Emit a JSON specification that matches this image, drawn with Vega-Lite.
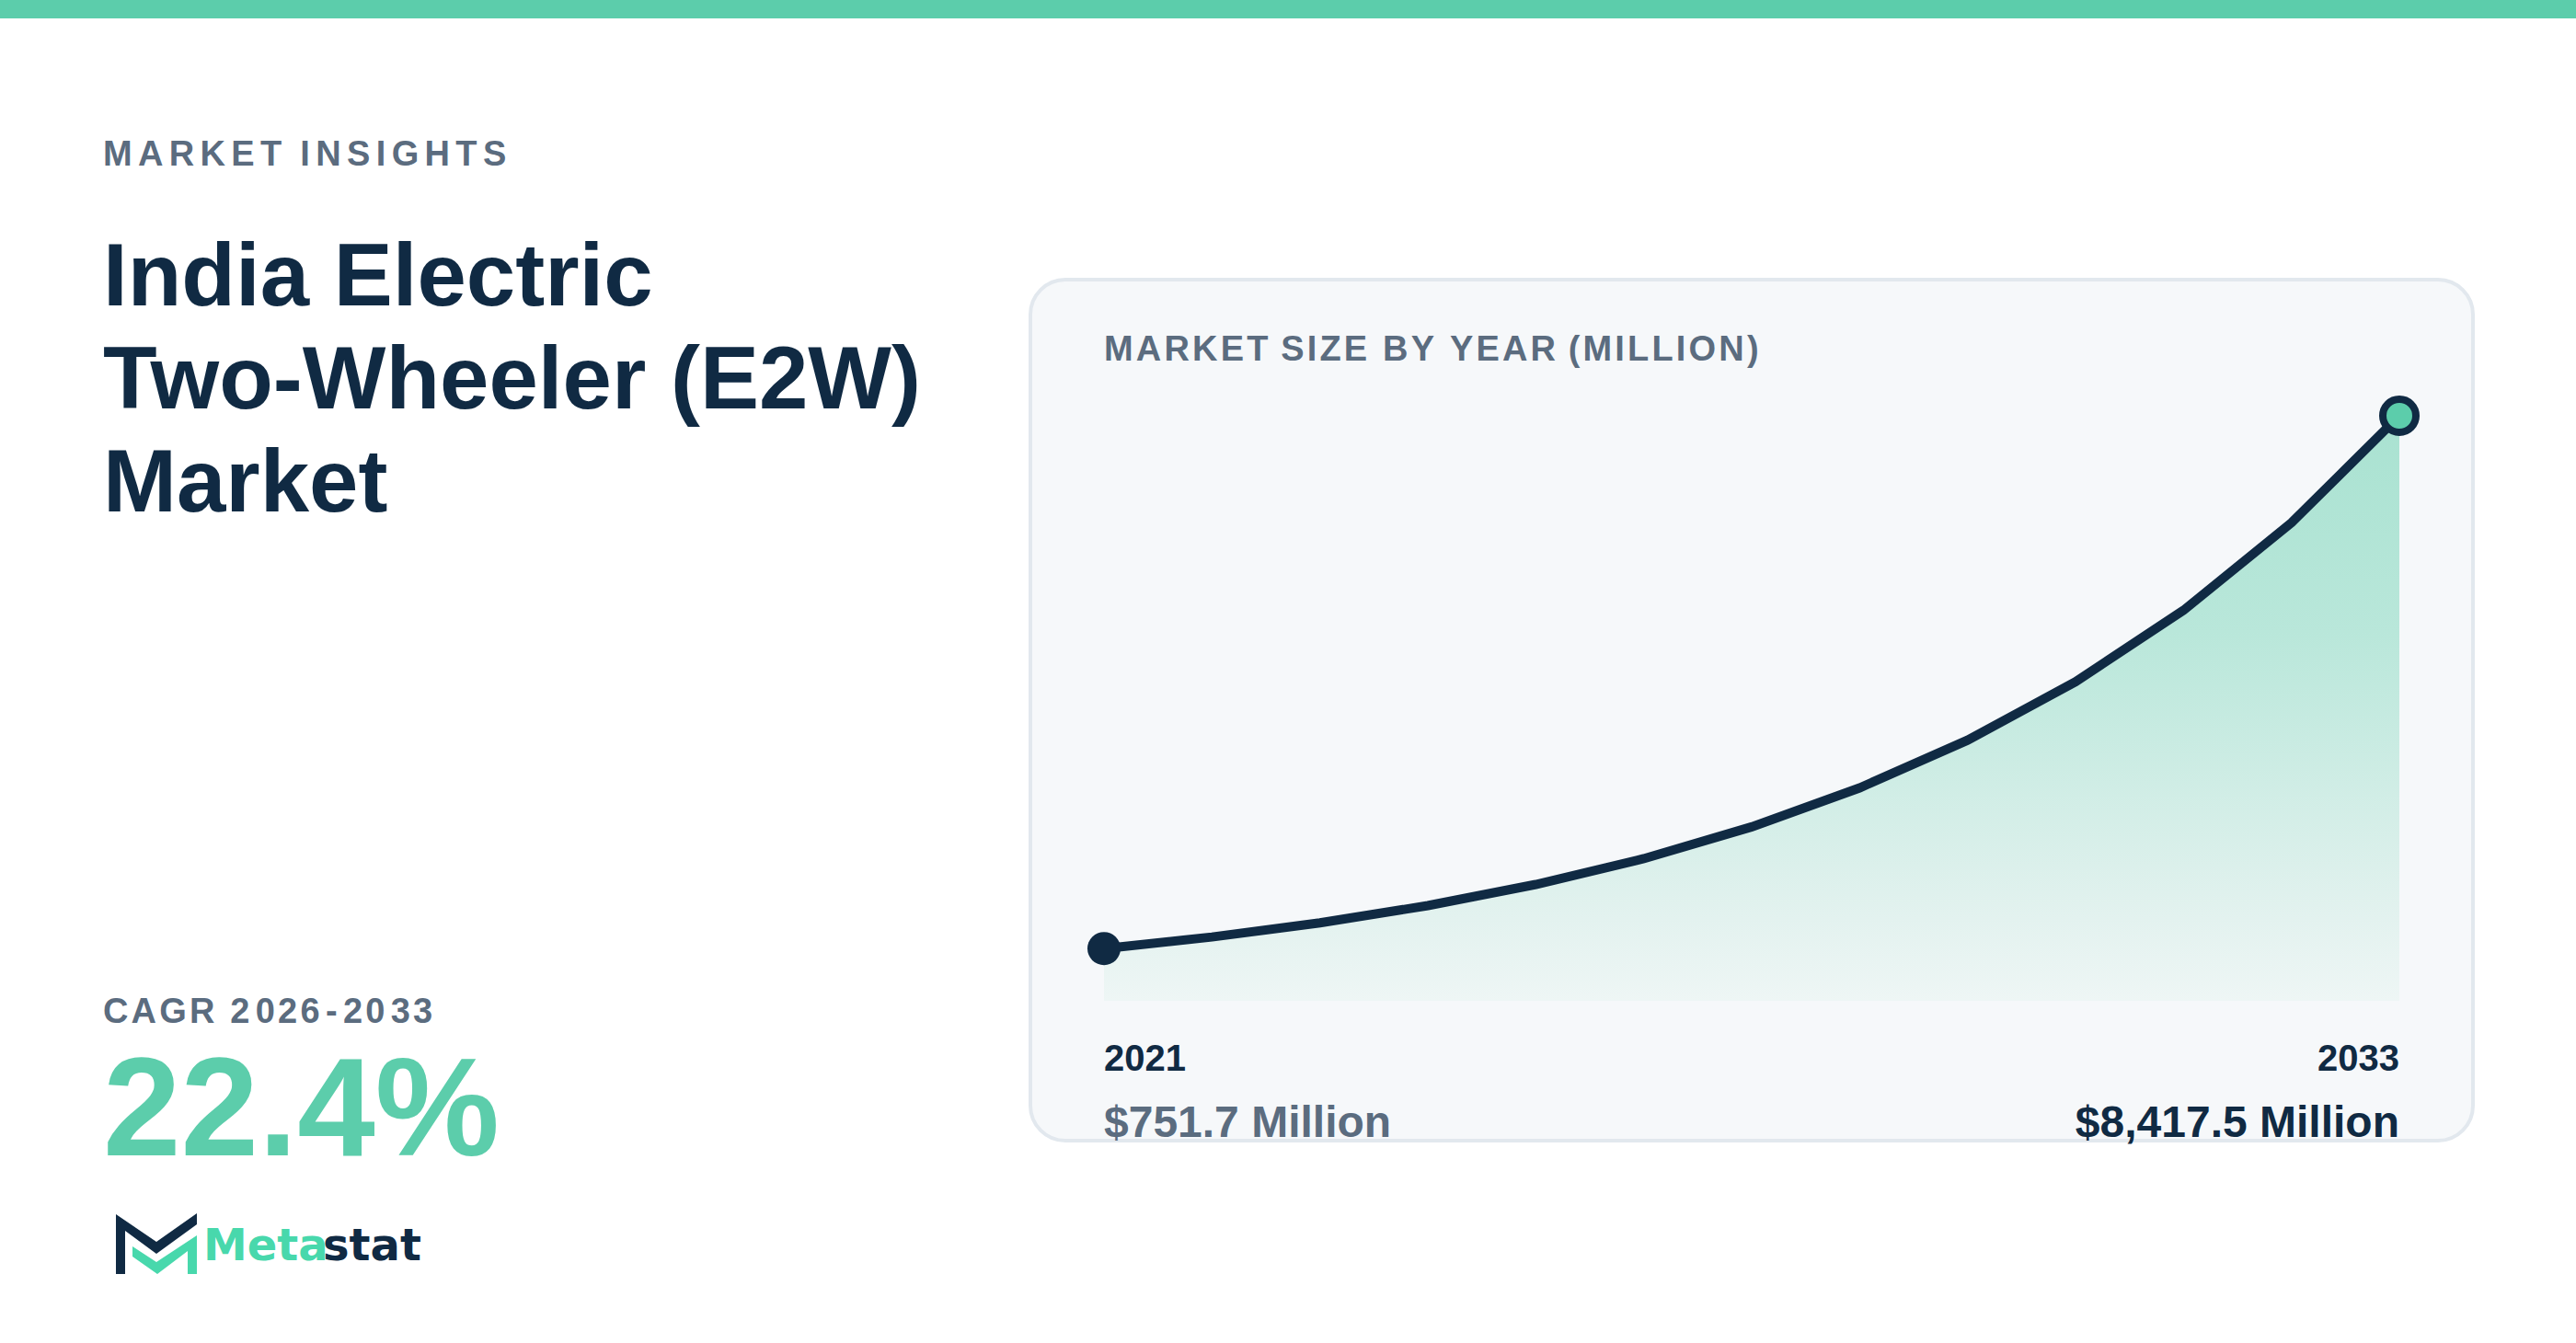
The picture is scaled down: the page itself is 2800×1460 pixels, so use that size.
{
  "$schema": "https://vega.github.io/schema/vega-lite/v6.json",
  "description": "India Electric Two-Wheeler (E2W) Market size by year",
  "width": 1568,
  "height": 936,
  "autosize": "none",
  "padding": {"left": 1120, "right": 112, "top": 304, "bottom": 220},
  "background": "#ffffff",
  "view": {"fill": "#f6f8fa", "stroke": "#e2e8ee", "strokeWidth": 4, "cornerRadius": 38},
  "config": {"font": "Liberation Sans", "text": {"font": "Liberation Sans", "fontWeight": "bold"}},
  "datasets": {
    "market": [
      {"year": 2021, "value": 751.7},
      {"year": 2022, "value": 918},
      {"year": 2023, "value": 1122},
      {"year": 2024, "value": 1370},
      {"year": 2025, "value": 1674},
      {"year": 2026, "value": 2045},
      {"year": 2027, "value": 2503},
      {"year": 2028, "value": 3064},
      {"year": 2029, "value": 3750},
      {"year": 2030, "value": 4590},
      {"year": 2031, "value": 5618},
      {"year": 2032, "value": 6877},
      {"year": 2033, "value": 8417.5}
    ],
    "ends": [
      {"year": 2021, "label": "2021", "amount": "$751.7 Million"},
      {"year": 2033, "label": "2033", "amount": "$8,417.5 Million"}
    ]
  },
  "data": {"name": "market"},
  "layer": [
    {
      "mark": {
        "type": "area",
        "color": {
          "gradient": "linear", "x1": 0, "y1": 0, "x2": 0, "y2": 1,
          "stops": [{"offset": 0, "color": "#a9e2d1"}, {"offset": 0.37, "color": "#b9e7da"}, {"offset": 0.86, "color": "#e3f2ef"}, {"offset": 1, "color": "#eef6f5"}]
        }
      },
      "encoding": {
        "x": {"field": "year", "type": "quantitative", "axis": null, "scale": {"domain": [2021, 2033], "range": [80, 1488], "zero": false, "nice": false}},
        "y": {"field": "value", "type": "quantitative", "axis": null, "scale": {"domain": [0, 8417.5], "range": [784, 148], "nice": false}}
      }
    },
    {
      "mark": {"type": "line", "color": "#102a43", "strokeWidth": 10},
      "encoding": {
        "x": {"field": "year", "type": "quantitative"},
        "y": {"field": "value", "type": "quantitative"}
      }
    },
    {
      "transform": [{"filter": "datum.year == 2021"}],
      "mark": {"type": "circle", "size": 1296, "fill": "#102a43", "opacity": 1},
      "encoding": {
        "x": {"field": "year", "type": "quantitative"},
        "y": {"field": "value", "type": "quantitative"}
      }
    },
    {
      "transform": [{"filter": "datum.year == 2033"}],
      "mark": {"type": "circle", "size": 1296, "fill": "#5ccdab", "stroke": "#102a43", "strokeWidth": 8, "opacity": 1},
      "encoding": {
        "x": {"field": "year", "type": "quantitative"},
        "y": {"field": "value", "type": "quantitative"}
      }
    },
    {
      "data": {"name": "ends"},
      "transform": [{"filter": "datum.year == 2021"}],
      "mark": {"type": "text", "align": "left", "baseline": "alphabetic", "fontSize": 40, "color": "#102a43", "y": 860},
      "encoding": {
        "x": {"field": "year", "type": "quantitative"},
        "text": {"field": "label"}
      }
    },
    {
      "data": {"name": "ends"},
      "transform": [{"filter": "datum.year == 2033"}],
      "mark": {"type": "text", "align": "right", "baseline": "alphabetic", "fontSize": 40, "color": "#102a43", "y": 860},
      "encoding": {
        "x": {"field": "year", "type": "quantitative"},
        "text": {"field": "label"}
      }
    },
    {
      "data": {"name": "ends"},
      "transform": [{"filter": "datum.year == 2021"}],
      "mark": {"type": "text", "align": "left", "baseline": "alphabetic", "fontSize": 48, "color": "#5b6c7f", "y": 932},
      "encoding": {
        "x": {"field": "year", "type": "quantitative"},
        "text": {"field": "amount"}
      }
    },
    {
      "data": {"name": "ends"},
      "transform": [{"filter": "datum.year == 2033"}],
      "mark": {"type": "text", "align": "right", "baseline": "alphabetic", "fontSize": 48, "color": "#102a43", "y": 932},
      "encoding": {
        "x": {"field": "year", "type": "quantitative"},
        "text": {"field": "amount"}
      }
    },
    {
      "data": {"values": [{"label": "M\u200aA\u200aR\u200aK\u200aE\u200aT\u200a S\u200aI\u200aZ\u200aE\u200a \u200aB\u200aY\u200a \u200aY\u200aE\u200aA\u200aR \u200a(\u200aM\u200aI\u200aL\u200aL\u200aI\u200aO\u200aN\u200a)"}]},
      "mark": {"type": "text", "align": "left", "baseline": "alphabetic", "fontSize": 38, "color": "#5b6c7f", "x": 80, "y": 88},
      "encoding": {"text": {"field": "label"}}
    },
    {
      "data": {"values": [{"label": "M\u200a\u200aA\u200a\u200aR\u200a\u200aK\u200a\u200aE\u200a\u200aT\u200a \u200a\u200aI\u200a\u200aN\u200a\u200aS\u200a\u200aI\u200a\u200aG\u200a\u200aH\u200a\u200aT\u200a\u200aS"}]},
      "mark": {"type": "text", "align": "left", "baseline": "alphabetic", "fontSize": 38, "color": "#5b6c7f", "x": -1008, "y": -124},
      "encoding": {"text": {"field": "label"}}
    },
    {
      "data": {"values": [{"label": ["India Electric", "Two-Wheeler (E2W)", "Market"]}]},
      "mark": {"type": "text", "align": "left", "baseline": "alphabetic", "fontSize": 96, "lineHeight": 112, "color": "#102a43", "x": -1008, "y": 28},
      "encoding": {"text": {"field": "label"}}
    },
    {
      "data": {"values": [{"label": "C\u200aA\u200aG\u200aR\u200a \u200a2\u200a\u200a0\u200a2\u200a6\u200a\u200a-\u200a\u200a2\u200a0\u200a\u200a3\u200a3"}]},
      "mark": {"type": "text", "align": "left", "baseline": "alphabetic", "fontSize": 38, "color": "#5b6c7f", "x": -1008, "y": 808},
      "encoding": {"text": {"field": "label"}}
    },
    {
      "data": {"values": [{"label": "22.4%"}]},
      "mark": {"type": "text", "align": "left", "baseline": "alphabetic", "fontSize": 152, "color": "#5ccdab", "x": -1008, "y": 952},
      "encoding": {"text": {"field": "label"}}
    },
    {
      "data": {"values": [{"label": "Meta"}]},
      "mark": {"type": "text", "align": "left", "baseline": "alphabetic", "font": "DejaVu Sans", "fontSize": 48, "color": "#48d8ac", "x": -899, "y": 1066},
      "encoding": {"text": {"field": "label"}}
    },
    {
      "data": {"values": [{"label": "stat"}]},
      "mark": {"type": "text", "align": "left", "baseline": "alphabetic", "font": "DejaVu Sans", "fontSize": 48, "color": "#102a43", "x": -769, "y": 1066},
      "encoding": {"text": {"field": "label"}}
    },
    {
      "data": {"values": [{"part": "logo navy"}]},
      "mark": {"type": "point", "filled": true, "opacity": 1, "size": 4, "color": "#102a43", "x": -994, "y": 1016, "shape": "M0 0L44 30L88 -1V11L44 43L10 18V65H0Z"},
      "encoding": {}
    },
    {
      "data": {"values": [{"part": "logo green"}]},
      "mark": {"type": "point", "filled": true, "opacity": 1, "size": 4, "color": "#48d8ac", "x": -994, "y": 1016, "shape": "M18 35L44 52L88 23V65H78V40L45 65L18 46Z"},
      "encoding": {}
    },
    {
      "data": {"values": [{"part": "top bar"}]},
      "mark": {"type": "rect", "color": "#5ccdab", "x": -1120, "x2": 1680, "y": -304, "y2": -284},
      "encoding": {}
    }
  ]
}
